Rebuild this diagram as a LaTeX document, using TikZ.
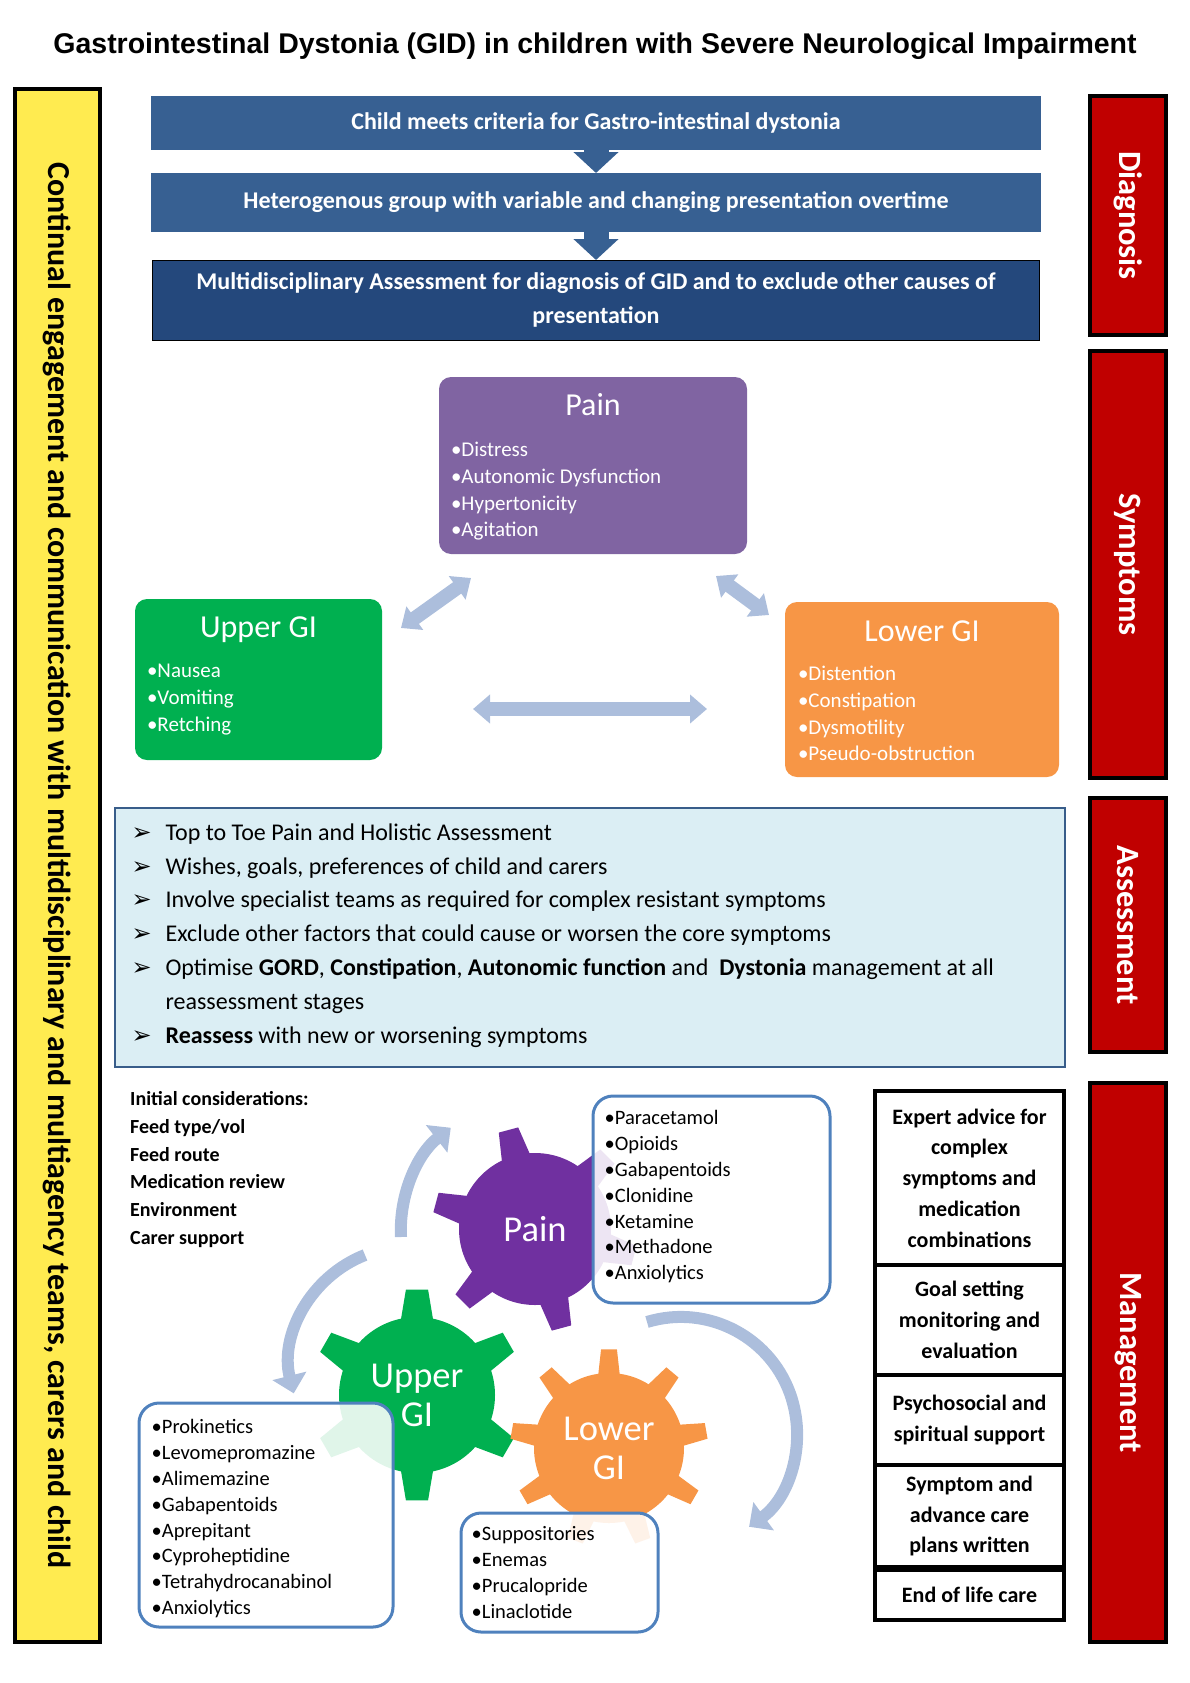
\documentclass[tikz,border=0pt]{standalone}
\usepackage{fontspec}
\setmainfont{Carlito}
\newfontfamily\headfont{Liberation Sans}
\newfontfamily\dingfont{DejaVu Sans}
\usetikzlibrary{arrows.meta, positioning}

\definecolor{flowblue}{RGB}{55,96,146}
\definecolor{flowdark}{RGB}{36,72,124}
\definecolor{bannerred}{RGB}{192,0,0}
\definecolor{engageyellow}{RGB}{255,235,80}
\definecolor{painpurple}{RGB}{128,100,162}
\definecolor{gearpurple}{RGB}{112,48,160}
\definecolor{gigreen}{RGB}{0,176,80}
\definecolor{giorange}{RGB}{247,150,70}
\definecolor{linkblue}{RGB}{172,190,220}
\definecolor{assessfill}{RGB}{219,238,244}
\definecolor{assessline}{RGB}{56,93,138}
\definecolor{medline}{RGB}{79,129,189}

\newcommand{\pointer}{\makebox[34pt][l]{\dingfont\fontsize{24}{24}\selectfont ➢}}
\newcommand{\hangpad}{\makebox[34pt][l]{}}

\begin{document}
\begin{tikzpicture}[
    x=1pt, y=-1pt,
    banner/.style={
        rectangle,
        draw=black,
        fill=bannerred,
        line width=4pt,
        rotate=-90,
        minimum height=76pt,
        inner sep=0pt,
        text=white,
        font=\fontsize{32.5}{38}\selectfont\bfseries
    },
    engagebar/.style={
        banner,
        fill=engageyellow,
        minimum height=85pt,
        text=black,
        font=\fontsize{32}{38}\selectfont\bfseries
    },
    stepbox/.style={
        rectangle,
        fill=flowblue,
        minimum width=890pt,
        inner sep=0pt,
        outer sep=0pt,
        align=center,
        text=white,
        font=\fontsize{24}{34}\selectfont\bfseries
    },
    flow/.style={
        -{Triangle[width=44pt,length=21pt]},
        line width=25pt,
        draw=flowblue
    },
    symbox/.style={
        rectangle,
        rounded corners=12pt,
        inner sep=0pt
    },
    symtitle/.style={
        anchor=base,
        inner sep=0pt,
        text=white,
        font=\fontsize{32}{38}\selectfont
    },
    symlist/.style={
        anchor=north west,
        align=left,
        inner sep=0pt,
        text=white,
        font=\fontsize{21}{26.8}\selectfont
    },
    both_link/.style={
        {Triangle[width=28pt,length=17pt]}-{Triangle[width=28pt,length=17pt]},
        line width=14pt,
        draw=linkblue
    },
    cycle_link/.style={
        -{Triangle[width=34pt,length=18pt]},
        line width=12pt,
        draw=linkblue
    },
    medbox/.style={
        rectangle,
        draw=medline,
        line width=3pt,
        fill=white,
        fill opacity=0.88,
        rounded corners=20pt,
        inner sep=0pt
    },
    medlist/.style={
        symlist,
        text=black,
        font=\fontsize{20.5}{25.8}\selectfont
    },
    cogtext/.style={
        align=center,
        inner sep=0pt,
        text=white,
        font=\fontsize{36.5}{39}\selectfont
    },
    planbox/.style={
        rectangle,
        draw=black,
        line width=3.5pt,
        minimum width=189pt,
        inner sep=0pt,
        outer sep=0pt,
        align=center,
        font=\fontsize{22}{30.7}\selectfont\bfseries
    }
]
    \useasboundingbox (0,0) rectangle (1190,1683);

    % TITLE
    \node[inner sep=0pt, font=\headfont\bfseries\fontsize{28.5}{34}\selectfont] (title) at (595,46) {Gastrointestinal Dystonia (GID) in children with Severe Neurological Impairment};

    % SIDE BARS
    \node[engagebar, minimum width=1553pt] (engage) at (57.5,865.5) {Continual engagement and communication with multidisciplinary and multiagency teams, carers and child};
    \node[banner, minimum width=239pt] (diag) at (1128,215.5) {Diagnosis};
    \node[banner, minimum width=427pt] (symp) at (1128,564.5) {Symptoms};
    \node[banner, minimum width=254pt] (assess) at (1128,925) {Assessment};
    \node[banner, minimum width=559pt] (manage) at (1128,1362.5) {Management};

    % DIAGNOSIS
    \node[stepbox, minimum height=54pt] (criteria) at (596,123) {Child meets criteria for Gastro-intestinal dystonia};
    \node[stepbox, minimum height=59pt] (hetero) [below=23pt of criteria] {Heterogenous group with variable and changing presentation overtime};
    \node[stepbox, fill=flowdark, draw=black, line width=1pt, minimum width=887pt, minimum height=80pt] (mdt) [below=28pt of hetero] {Multidisciplinary Assessment for diagnosis of GID and to exclude other causes of\\presentation};
    \draw[flow] (criteria) -- (hetero);
    \draw[flow] (hetero) -- (mdt);

    % SYMPTOMS
    \node[symbox, fill=painpurple, minimum width=308pt, minimum height=177pt] (pain) at (593,465.5) {};
    \node[symbox, fill=gigreen, minimum width=247pt, minimum height=161pt] (upper) at (258.5,679.5) {};
    \node[symbox, fill=giorange, minimum width=274pt, minimum height=175pt] (lower) at (922,689.5) {};

    \node[symtitle] (paintitle) at ([yshift=-39pt]pain.north) {Pain};
    \node[symtitle] (uppertitle) at ([yshift=-39pt]upper.north) {Upper GI};
    \node[symtitle] (lowertitle) at ([yshift=-40pt]lower.north) {Lower GI};

    \node[symlist, below right=65pt and 12pt of pain.north west] (painlist) {•Distress\\•Autonomic Dysfunction\\•Hypertonicity\\•Agitation};
    \node[symlist, below right=65pt and 12pt of upper.north west] (upperlist) {•Nausea\\•Vomiting\\•Retching};
    \node[symlist, below right=64pt and 13pt of lower.north west] (lowerlist) {•Distention\\•Constipation\\•Dysmotility\\•Pseudo-obstruction};

    \coordinate (ulend) at (401,628);
    \coordinate (plend) at (471,578);
    \coordinate (prend) at (716,576);
    \coordinate (lrend) at (769,615);
    \coordinate (uhend) at (473,709);
    \coordinate (lhend) at (707,709);
    \draw[both_link] (ulend) -- (plend);
    \draw[both_link] (prend) -- (lrend);
    \draw[both_link] (uhend) -- (lhend);

    % ASSESSMENT
    \node[rectangle, draw=assessline, line width=1.2pt, fill=assessfill, minimum width=950pt, minimum height=259pt] (assessbox) at (590,937.5) {};
    \node[anchor=north west, align=left, inner sep=0pt, font=\fontsize{24}{33.8}\selectfont] (assesslist) [below right=16pt and 17pt of assessbox.north west] {%
        \pointer Top to Toe Pain and Holistic Assessment\\
        \pointer Wishes, goals, preferences of child and carers\\
        \pointer Involve specialist teams as required for complex resistant symptoms\\
        \pointer Exclude other factors that could cause or worsen the core symptoms\\
        \pointer Optimise \textbf{GORD}, \textbf{Constipation}, \textbf{Autonomic function} and\ \ \textbf{Dystonia} management at all\\
        \hangpad reassessment stages\\
        \pointer \textbf{Reassess} with new or worsening symptoms};

    % MANAGEMENT
    \node[anchor=north west, align=left, inner sep=0pt, font=\fontsize{20}{27.9}\selectfont\bfseries] (initial) at (130,1091) {Initial considerations:\\Feed type/vol\\Feed route\\Medication review\\Environment\\Carer support};

    % gears
    \coordinate (paincog) at (535,1229);
    \coordinate (uppercog) at (417,1395);
    \coordinate (lowercog) at (609,1448);
    \fill[gearpurple] (paincog) circle[radius=76];
    \foreach \a in {-105,-45,15,75,135,195}
        \fill[gearpurple, shift={(paincog)}] (\a-12:72) -- (\a-5.6:103) -- (\a+5.6:103) -- (\a+12:72) -- cycle;
    \fill[gigreen] (uppercog) circle[radius=78];
    \foreach \a in {-90,-30,30,90,150,210}
        \fill[gigreen, shift={(uppercog)}] (\a-13:74) -- (\a-6:106) -- (\a+6:106) -- (\a+13:74) -- cycle;
    \fill[giorange] (lowercog) circle[radius=75];
    \foreach \a in {-90,-50,-10,30,70,110,150,190,230}
        \fill[giorange, shift={(lowercog)}] (\a-9:71) -- (\a-4.6:99) -- (\a+4.6:99) -- (\a+9:71) -- cycle;
    \node[cogtext] (paincogtext) at (paincog) {Pain};
    \node[cogtext] (uppercogtext) at (uppercog) {Upper\\GI};
    \node[cogtext] (lowercogtext) at (lowercog) {Lower\\GI};

    % cycle arrows
    \coordinate (cycone) at (401,1237);
    \coordinate (cyctwo) at (365,1255);
    \coordinate (cycthree) at (647,1322);
    \draw[cycle_link] (cycone) arc[start angle=177, end angle=232, radius=130];
    \draw[cycle_link] (cyctwo) arc[start angle=-111.5, end angle=-194, radius=118];
    \draw[cycle_link] (cycthree) arc[start angle=-107, end angle=54, radius=116];

    % medication boxes
    \node[medbox, minimum width=237pt, minimum height=207pt] (painmeds) at (711.5,1199.5) {};
    \node[medbox, minimum width=254pt, minimum height=224pt] (uppermeds) at (266,1515) {};
    \node[medbox, minimum width=197pt, minimum height=119pt] (lowermeds) at (559.5,1572.5) {};
    \node[medlist, below right=16pt and 13pt of painmeds.north west] (painmedlist) {•Paracetamol\\•Opioids\\•Gabapentoids\\•Clonidine\\•Ketamine\\•Methadone\\•Anxiolytics};
    \node[medlist, below right=18pt and 14pt of uppermeds.north west] (uppermedlist) {•Prokinetics\\•Levomepromazine\\•Alimemazine\\•Gabapentoids\\•Aprepitant\\•Cyproheptidine\\•Tetrahydrocanabinol\\•Anxiolytics};
    \node[medlist, below right=15pt and 12pt of lowermeds.north west] (lowermedlist) {•Suppositories\\•Enemas\\•Prucalopride\\•Linaclotide};

    % plan boxes
    \node[planbox, minimum height=174pt] (expert) at (969.5,1178) {Expert advice for\\complex\\symptoms and\\medication\\combinations};
    \node[planbox, minimum height=110pt] (goals) [below=0pt of expert] {Goal setting\\monitoring and\\evaluation};
    \node[planbox, minimum height=90pt] (psycho) [below=0pt of goals] {Psychosocial and\\spiritual support};
    \node[planbox, minimum height=102pt] (plans) [below=0pt of psycho] {Symptom and\\advance care\\plans written};
    \node[planbox, minimum height=50pt] (eol) [below=3pt of plans] {End of life care};

\end{tikzpicture}
\end{document}
